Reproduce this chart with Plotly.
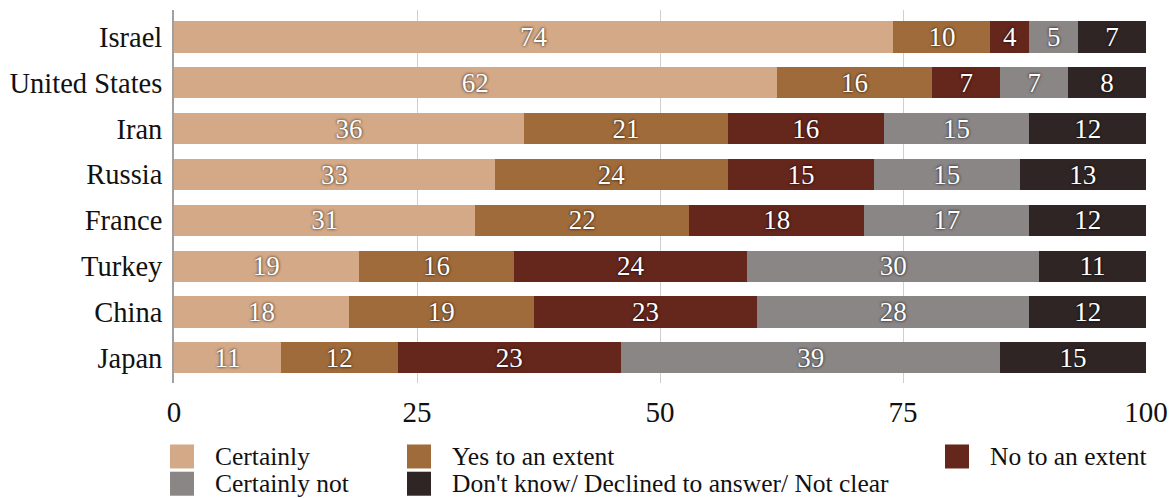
import plotly.graph_objects as go

countries = ["Israel", "United States", "Iran", "Russia", "France", "Turkey", "China", "Japan"]

certainly = [74, 62, 36, 33, 31, 19, 18, 11]
yes_extent = [10, 16, 21, 24, 22, 16, 19, 12]
no_extent = [4, 7, 16, 15, 18, 24, 23, 23]
certainly_not = [5, 7, 15, 15, 17, 30, 28, 39]
dont_know = [7, 8, 12, 13, 12, 11, 12, 15]

series_names = [
    "Certainly",
    "Yes to an extent",
    "No to an extent",
    "Certainly not",
    "Don't know/ Declined to answer/ Not clear",
]
series_values = [certainly, yes_extent, no_extent, certainly_not, dont_know]
series_colors = ["#D4A987", "#A06B3A", "#65261C", "#8A8685", "#2E2524"]

x_ticks = [0, 25, 50, 75, 100]

FONT = "Liberation Serif, Times New Roman, serif"

fig = go.Figure()
for name, vals, color in zip(series_names, series_values, series_colors):
    fig.add_trace(go.Bar(
        y=countries,
        x=vals,
        name=name,
        orientation="h",
        marker=dict(color=color, line=dict(width=0)),
        text=[str(v) for v in vals],
        textposition="inside",
        insidetextanchor="middle",
        textangle=0,
        constraintext="none",
        textfont=dict(family=FONT, size=27, color="white",
                      shadow="0px 0px 3px rgba(0,0,0,0.95)"),
        showlegend=False,
        hoverinfo="skip",
    ))

# Legend drawn as swatches + labels in a three-column grid
px_w = 1176 - 174 - 30
px_h = 498 - 10 - 115
legend_cols = [0.0, 237 / px_w, 775 / px_w]   # paper x of each column
legend_rows = [-0.197, -0.27]                 # paper y of each row
legend_slots = [(0, 0), (0, 1), (0, 2), (1, 0), (1, 1)]
sw_w = 24 / px_w
sw_h = 24 / px_h
for (row, col), name, color in zip(legend_slots, series_names, series_colors):
    x0 = legend_cols[col] - 4 / px_w
    yc = legend_rows[row]
    fig.add_shape(type="rect", xref="paper", yref="paper",
                  x0=x0, x1=x0 + sw_w, y0=yc - sw_h / 2, y1=yc + sw_h / 2,
                  fillcolor=color, line=dict(width=0))
    fig.add_annotation(xref="paper", yref="paper", x=x0 + sw_w + 19 / px_w, y=yc,
                       text=name, showarrow=False, xanchor="left", yanchor="middle",
                       font=dict(family=FONT, size=25.5, color="#111"))

fig.update_layout(
    barmode="stack",
    bargap=0.32,
    width=1176,
    height=498,
    margin=dict(l=174, r=30, t=10, b=115, autoexpand=False),
    paper_bgcolor="white",
    plot_bgcolor="white",
    font=dict(family=FONT, color="#111"),
    xaxis=dict(
        range=[0, 100],
        tickvals=x_ticks,
        ticktext=[str(t) for t in x_ticks],
        tickfont=dict(size=29, family=FONT, color="#111"),
        showgrid=True,
        gridcolor="#CFCFCF",
        gridwidth=1,
        zeroline=False,
        showline=False,
        ticks="",
        ticklabelstandoff=9,
        automargin=False,
    ),
    yaxis=dict(
        categoryorder="array",
        categoryarray=countries,
        autorange=False,
        range=[7.55, -0.59],
        tickfont=dict(size=28.5, family=FONT, color="#111"),
        showgrid=False,
        zeroline=False,
        showline=True,
        linecolor="#A0A0A0",
        linewidth=2,
        ticks="",
        ticklabelstandoff=4,
        automargin=False,
    ),
)

fig.write_html("out.html")
